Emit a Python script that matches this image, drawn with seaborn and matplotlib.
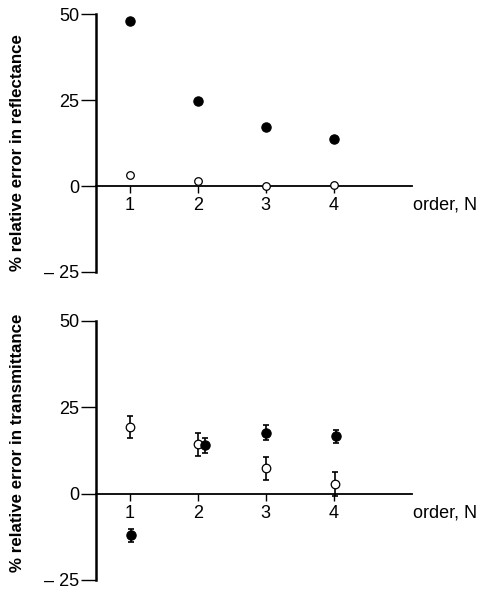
"""Relative error in reflectance and transmittance versus order N."""

import matplotlib

matplotlib.use("Agg")

import matplotlib.pyplot as plt
import pandas as pd
import seaborn as sns

# reflectance panel
refl_order = [1, 2, 3, 4]
refl_filled = [48.0, 24.8, 17.2, 13.7]
refl_open = [3.3, 1.4, 0.0, 0.2]

# transmittance panel (x slightly shifted where the points overlap)
trans_filled_x = [1.02, 2.1, 3.0, 4.04]
trans_filled = [-12.1, 14.0, 17.6, 16.5]
trans_filled_err = [1.9, 2.2, 2.2, 1.9]
trans_open_x = [1.0, 2.0, 3.0, 4.02]
trans_open = [19.2, 14.2, 7.3, 2.8]
trans_open_err = [3.2, 3.2, 3.3, 3.4]

x_ticks = [1, 2, 3, 4]
y_ticks = [-25, 0, 25, 50]
y_tick_labels = ["\u2013 25", "0", "25", "50"]

sns.set_theme(style="white")
plt.rcParams["font.family"] = ["Liberation Sans", "DejaVu Sans"]
plt.rcParams.update({
    "text.color": "black",
    "axes.labelcolor": "black",
    "xtick.color": "black",
    "ytick.color": "black",
    "xtick.labelcolor": "black",
    "ytick.labelcolor": "black",
})

fig = plt.figure(figsize=(4.8, 5.9), dpi=100)
ax_top = fig.add_axes([0.2, 0.539, 0.658, 0.437])
ax_bot = fig.add_axes([0.2, 0.017, 0.658, 0.4395])


def style_axis(ax, ylabel, label_y):
    ax.set_xlim(0.5, 5.15)
    ax.set_ylim(-25, 50)
    for side in ("top", "right"):
        ax.spines[side].set_visible(False)
    ax.spines["bottom"].set_position(("data", 0))
    ax.spines["bottom"].set_linewidth(1.3)
    ax.spines["left"].set_linewidth(1.8)
    ax.spines["left"].set_color("black")
    ax.spines["bottom"].set_color("black")
    ax.set_xticks(x_ticks)
    ax.set_xticklabels([str(t) for t in x_ticks])
    ax.set_yticks(y_ticks)
    ax.set_yticklabels(y_tick_labels)
    ax.tick_params(axis="x", direction="out", length=5, width=1.0, pad=3,
                   labelsize=13, bottom=True, color="black", labelcolor="black")
    ax.tick_params(axis="y", direction="out", length=11, width=1.0, pad=1,
                   labelsize=13, left=True, color="black", labelcolor="black")
    ax.set_xlabel("")
    ax.set_ylabel(ylabel, fontsize=12.2, fontweight="bold", color="black")
    ax.yaxis.set_label_coords(-0.225, label_y)
    ax.text(5.17, -5.5, "order, N", fontsize=13, ha="left", va="center",
            color="black", clip_on=False)
    ax.grid(False)


# top: reflectance
df_refl = pd.DataFrame({"order": refl_order, "filled": refl_filled, "open": refl_open})
sns.scatterplot(data=df_refl, x="order", y="filled", ax=ax_top, color="black",
                s=45, edgecolor="black", linewidth=0.8, clip_on=False, zorder=4)
sns.scatterplot(data=df_refl, x="order", y="open", ax=ax_top, color="white",
                s=30, edgecolor="black", linewidth=0.9, clip_on=False, zorder=4)
style_axis(ax_top, "% relative error in reflectance", 0.465)

# bottom: transmittance
df_tf = pd.DataFrame({"order": trans_filled_x, "err": trans_filled, "sd": trans_filled_err})
df_to = pd.DataFrame({"order": trans_open_x, "err": trans_open, "sd": trans_open_err})
ax_bot.errorbar(df_to["order"], df_to["err"], yerr=df_to["sd"], fmt="none",
                ecolor="black", elinewidth=1.2, capsize=2.2, capthick=1.2, zorder=3)
ax_bot.errorbar(df_tf["order"], df_tf["err"], yerr=df_tf["sd"], fmt="none",
                ecolor="black", elinewidth=1.2, capsize=2.2, capthick=1.2, zorder=3)
sns.scatterplot(data=df_to, x="order", y="err", ax=ax_bot, color="white",
                s=38, edgecolor="black", linewidth=0.9, clip_on=False, zorder=4)
sns.scatterplot(data=df_tf, x="order", y="err", ax=ax_bot, color="black",
                s=45, edgecolor="black", linewidth=0.8, clip_on=False, zorder=5)
style_axis(ax_bot, "% relative error in transmittance", 0.53)

fig.savefig("out.png", dpi=100)
